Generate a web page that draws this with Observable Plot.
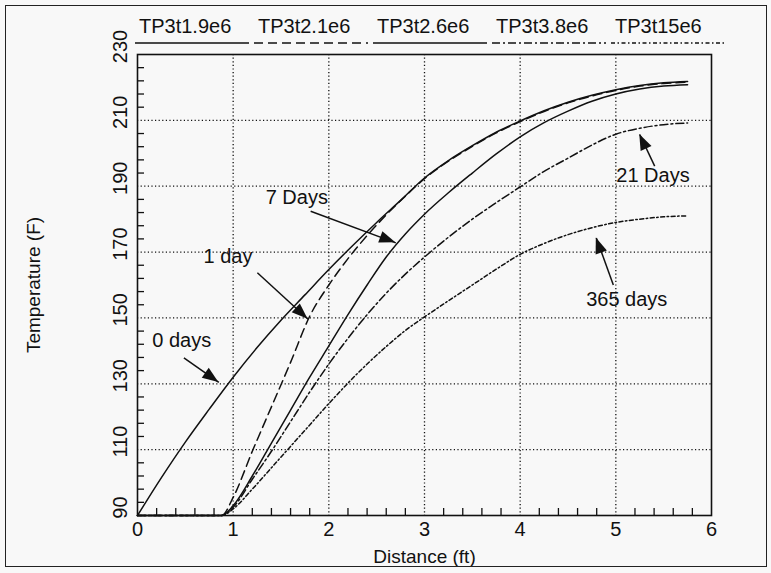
<!DOCTYPE html>
<html><head><meta charset="utf-8">
<script src="https://cdn.jsdelivr.net/npm/d3@7"></script>
<script src="https://cdn.jsdelivr.net/npm/@observablehq/plot@0.6"></script>
<style>
html,body{margin:0;padding:0;background:#f8f8f8;}
#wrap{position:relative;width:771px;height:573px;overflow:hidden;}
#wrap svg{position:absolute;left:0;top:0;}
#border{position:absolute;left:5px;top:5px;width:762px;height:562px;border:1.5px solid #222;box-sizing:border-box;pointer-events:none;}
</style></head>
<body><div id="wrap"><div id="border"></div></div>
<script>
// ---- data ----
const seriesNames = ["TP3t1.9e6", "TP3t2.1e6", "TP3t2.6e6", "TP3t3.8e6", "TP3t15e6"];

const dist0 = [0,0.25,0.5,0.75,1,1.25,1.5,1.75,2,2.25,2.5,2.75,3,3.25,3.5,3.75,4,4.25,4.5,4.75,5,5.25,5.5,5.75];
const temp0 = [90,101.5,112.3,122.3,132,141,149.3,157,164.7,172,179,185.7,192.5,197.8,202.3,206.4,209.8,212.9,215.5,217.6,219.3,220.6,221.4,221.8];

const dist1 = [0,0.88,1.0,1.2,1.4,1.6,1.8,2.0,2.2,2.4,2.6,2.8,3.0,3.25,3.5,3.75,4,4.25,4.5,4.75,5,5.25,5.5,5.75];
const temp1 = [90,90,95.5,109.5,123,136.5,150.5,160,168,175,181.3,187,192.3,197.6,202.1,206.2,209.6,212.7,215.3,217.4,219.1,220.4,221.2,221.6];

const dist2 = [0,0.88,1.0,1.2,1.4,1.6,1.8,2.0,2.2,2.4,2.6,2.8,3.0,3.25,3.5,3.75,4.0,4.25,4.5,4.75,5.0,5.25,5.5,5.75];
const temp2 = [90,90,93,102,112,122,132,141.5,151,160,168.5,175.5,181.5,188,194,199.8,205,209.3,212.8,215.8,218,219.5,220.4,220.8];

const dist3 = [0,0.88,1.0,1.2,1.4,1.6,1.8,2.0,2.2,2.4,2.6,2.8,3.0,3.25,3.5,3.75,4.0,4.25,4.5,4.75,5.0,5.25,5.5,5.75];
const temp3 = [90,90,92.5,101,109.5,118.5,127.5,136,143.8,151,157.5,163.3,168.5,174.5,180,185,189.8,194.5,198.5,202.5,205.8,207.6,208.7,209.2];

const dist4 = [0,0.88,1.0,1.2,1.4,1.6,1.8,2.0,2.2,2.4,2.6,2.8,3.0,3.25,3.5,3.75,4.0,4.25,4.5,4.75,5.0,5.25,5.5,5.75];
const temp4 = [90,90,92,98,104.5,111,117.5,124,130.2,136,141.3,146.2,150.3,155.2,160,164.8,169.3,172.6,175.3,177.4,179,180,180.7,181];

const xTickLabels = [0, 1, 2, 3, 4, 5, 6];
const yTickLabels = [90, 110, 130, 150, 170, 190, 210, 230];

// annotations (label position and arrow tail -> tip, in data units)
const annoLabels = ["0 days", "1 day", "7 Days", "21 Days", "365 days"];
const annoX = [0.154, 0.69, 1.34, 5.005, 4.69];
const annoY = [143.2, 168.5, 186.6, 193.2, 155.5];
const tailX = [0.485, 1.253, 1.81, 5.406, 4.974];
const tailY = [137.9, 163.7, 182.4, 196.1, 160.0];
const tipX  = [0.85, 1.783, 2.70, 5.25, 4.796];
const tipY  = [130.4, 149.6, 172.8, 205.7, 174.3];

// ---- styles ----
const dashes = [null, "9,5", null, "8,3,2,3", "4,2.5,1.5,2.5"];
const ink = "#111";
const font = "'Liberation Sans', Arial, Helvetica, sans-serif";

const dists = [dist0, dist1, dist2, dist3, dist4];
const temps = [temp0, temp1, temp2, temp3, temp4];
const seriesRows = seriesNames.map((s, i) => dists[i].map((d, j) => ({series: s, x: d, y: temps[i][j]})));

const annos = annoLabels.map((t, i) => ({text: t, x: annoX[i], y: annoY[i], x1: tailX[i], y1: tailY[i], x2: tipX[i], y2: tipY[i]}));

const minorX = d3.range(1, 30).map(k => k / 5).filter(v => Math.abs(v - Math.round(v)) > 1e-6);
const minorY = d3.range(1, 35).map(k => 90 + 4 * k).filter(v => (v - 90) % 20 !== 0);

const lineMarks = seriesRows.map((rows, i) => Plot.line(rows, {
  x: "x", y: "y", stroke: ink, strokeWidth: 1.5, curve: "monotone-x",
  strokeDasharray: dashes[i] || undefined
}));

const svg = Plot.plot({
  width: 771, height: 573,
  marginLeft: 137, marginRight: 60, marginTop: 54, marginBottom: 58,
  x: {domain: [0, 6], axis: null},
  y: {domain: [90, 230], axis: null},
  style: {background: "transparent", fontFamily: font, color: ink, overflow: "visible"},
  marks: [
    Plot.gridX([1, 2, 3, 4, 5], {stroke: ink, strokeOpacity: 1, strokeWidth: 1.3, strokeDasharray: "1.2,2.4"}),
    Plot.gridY([110, 130, 150, 170, 190, 210], {stroke: ink, strokeOpacity: 1, strokeWidth: 1.3, strokeDasharray: "1.2,2.4"}),
    Plot.axisX({ticks: minorX, tickSize: 7, dy: -7, tickFormat: () => "", stroke: ink, strokeWidth: 1.3, label: null}),
    Plot.axisY({ticks: minorY, tickSize: 7, dx: 7, tickFormat: () => "", stroke: ink, strokeWidth: 1.3, label: null}),
    Plot.text(xTickLabels, {x: d => d, frameAnchor: "bottom", textAnchor: "middle", lineAnchor: "top", dy: 6, fontSize: 20, fill: ink}),
    Plot.text(yTickLabels, {y: d => d, frameAnchor: "left", textAnchor: "middle", lineAnchor: "middle", rotate: -90, dx: -16.5, dy: -8, fontSize: 20, fill: ink}),
    Plot.text(["Temperature (F)"], {frameAnchor: "left", textAnchor: "middle", lineAnchor: "middle", rotate: -90, dx: -104, fontSize: 19, fill: ink}),
    Plot.text(["Distance (ft)"], {frameAnchor: "bottom", textAnchor: "middle", lineAnchor: "middle", dy: 41, fontSize: 19, fill: ink}),
    ...lineMarks,
    Plot.link(annos, {x1: "x1", y1: "y1", x2: "x2", y2: "y2", stroke: ink, strokeWidth: 1.5}),
    Plot.text(annos, {x: "x", y: "y", text: "text", textAnchor: "start", fontSize: 20, fill: ink}),
    Plot.frame({stroke: ink, strokeWidth: 1.6})
  ]
});

document.getElementById("wrap").prepend(svg);

const sx = svg.scale("x"), sy = svg.scale("y");
const g = d3.select(svg).append("g").attr("text-anchor", "start");

// filled arrowheads
annos.forEach(a => {
  const tx = sx.apply(a.x2), ty = sy.apply(a.y2);
  const fx = sx.apply(a.x1), fy = sy.apply(a.y1);
  const L = Math.hypot(tx - fx, ty - fy), ux = (tx - fx) / L, uy = (ty - fy) / L;
  const len = 16, hw = 6;
  const bx = tx - ux * len, by = ty - uy * len;
  g.append("polygon")
    .attr("points", [[tx, ty], [bx - uy * hw, by + ux * hw], [bx + uy * hw, by - ux * hw]].map(p => p.join(",")).join(" "))
    .attr("fill", ink);
});

// legend above the frame
const legendLeft = 139, legendStep = 119;
seriesNames.forEach((s, i) => {
  const x0 = legendLeft + i * legendStep;
  g.append("text").attr("x", x0).attr("y", 33).attr("font-size", 20).attr("font-family", font)
    .attr("text-anchor", "start").attr("fill", ink).text(s);
  const ln = g.append("line").attr("x1", x0 - 4).attr("x2", x0 + 110).attr("y1", 43).attr("y2", 43)
    .attr("stroke", ink).attr("stroke-width", 1.5);
  if (dashes[i]) ln.attr("stroke-dasharray", dashes[i]);
});
</script>
</body></html>
